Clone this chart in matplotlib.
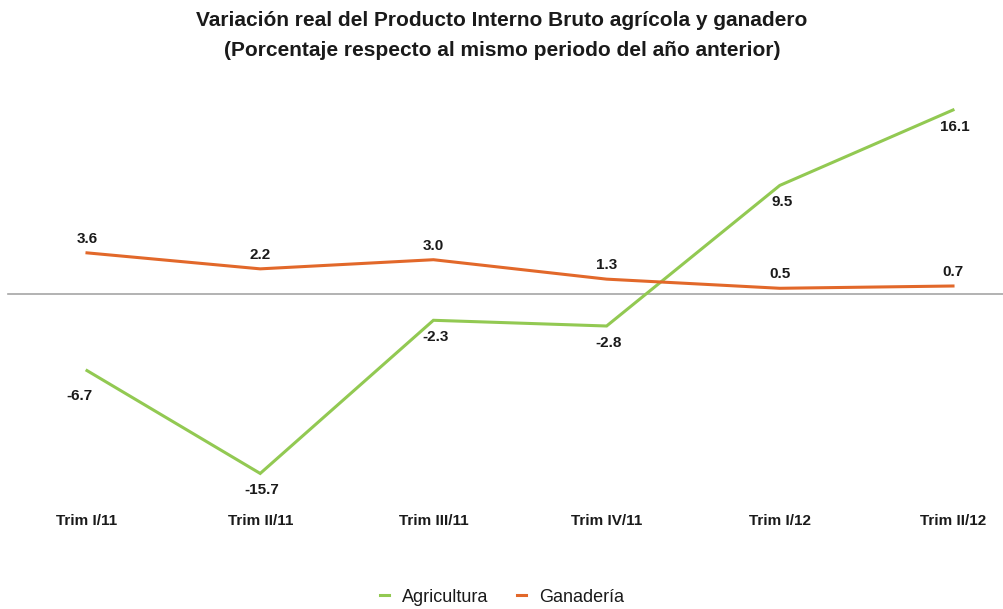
"""
Variación real del PIB agrícola y ganadero, por trimestre.
"""

from matplotlib import pyplot as plt
from matplotlib import font_manager
from matplotlib.transforms import blended_transform_factory


OUTPUT_FILE = "out.png"

trimestres = ["Trim I/11", "Trim II/11", "Trim III/11", "Trim IV/11", "Trim I/12", "Trim II/12"]
agricultura = [-6.7, -15.7, -2.3, -2.8, 9.5, 16.1]
ganaderia = [3.6, 2.2, 3.0, 1.3, 0.5, 0.7]

GREEN = "#92c952"
ORANGE = "#e2682a"


def pick_font():
    names = {f.name for f in font_manager.fontManager.ttflist}
    for name in ("Liberation Sans Narrow", "Liberation Sans"):
        if name in names:
            return [name, "DejaVu Sans"]
    return ["DejaVu Sans"]


def plot(output_file=OUTPUT_FILE):
    plt.rcParams["font.family"] = pick_font()
    plt.rcParams["font.weight"] = "bold"

    fig = plt.figure(figsize=(10.04, 6.09), dpi=100)
    ax = fig.add_axes([0, 0, 1, 1])
    ax.axis("off")

    # pixel layout: categories every ~173 px starting at 87, zero line at y=294
    px_step, px_first = 173.2, 87
    px_per_unit, px_zero = 11.43, 294
    ax.set_xlim(-px_first / px_step, (1004 - px_first) / px_step)
    ax.set_ylim(-(609 - px_zero) / px_per_unit, px_zero / px_per_unit)

    x = list(range(len(trimestres)))
    ax.axhline(0, xmin=8 / 1004, xmax=1, color="#a6a6a6", lw=1.2)
    ax.plot(x, agricultura, color=GREEN, lw=2.2, label="Agricultura",
            solid_joinstyle="miter")
    ax.plot(x, ganaderia, color=ORANGE, lw=2.2, label="Ganadería",
            solid_joinstyle="miter")

    for i, v in enumerate(agricultura):
        dx = -8 if i == 0 else 2
        dy = -25 if i == 0 else -17
        ax.annotate(f"{v:.1f}", (i, v), xytext=(dx, dy), textcoords="offset pixels",
                    ha="center", va="center", fontsize=11, fontweight="bold",
                    color="#1a1a1a")
    for i, v in enumerate(ganaderia):
        ax.annotate(f"{v:.1f}", (i, v), xytext=(0, 14), textcoords="offset pixels",
                    ha="center", va="center", fontsize=11, fontweight="bold",
                    color="#1a1a1a")

    trans = blended_transform_factory(ax.transData, ax.transAxes)
    for i, lab in enumerate(trimestres):
        ax.text(i, 1 - 521 / 609, lab, transform=trans, ha="center", va="center",
                fontsize=11, fontweight="bold", color="#1a1a1a")

    fig.text(0.5, 1 - 20 / 609,
             "Variación real del Producto Interno Bruto agrícola y ganadero",
             ha="center", va="center", fontsize=15, fontweight="bold", color="#1a1a1a")
    fig.text(0.5, 1 - 51 / 609,
             "(Porcentaje respecto al mismo periodo del año anterior)",
             ha="center", va="center", fontsize=15, fontweight="bold", color="#1a1a1a")

    leg = ax.legend(loc="center", bbox_to_anchor=(0.5, 1 - 597 / 609), ncol=2,
                    frameon=False, handlelength=0.5, handletextpad=0.7,
                    columnspacing=1.6, prop={"size": 13, "weight": "normal"})
    for t in leg.get_texts():
        t.set_color("#1a1a1a")

    fig.savefig(output_file, dpi=100)
    print(f"Written to {output_file}")


if __name__ == "__main__":
    plot()
